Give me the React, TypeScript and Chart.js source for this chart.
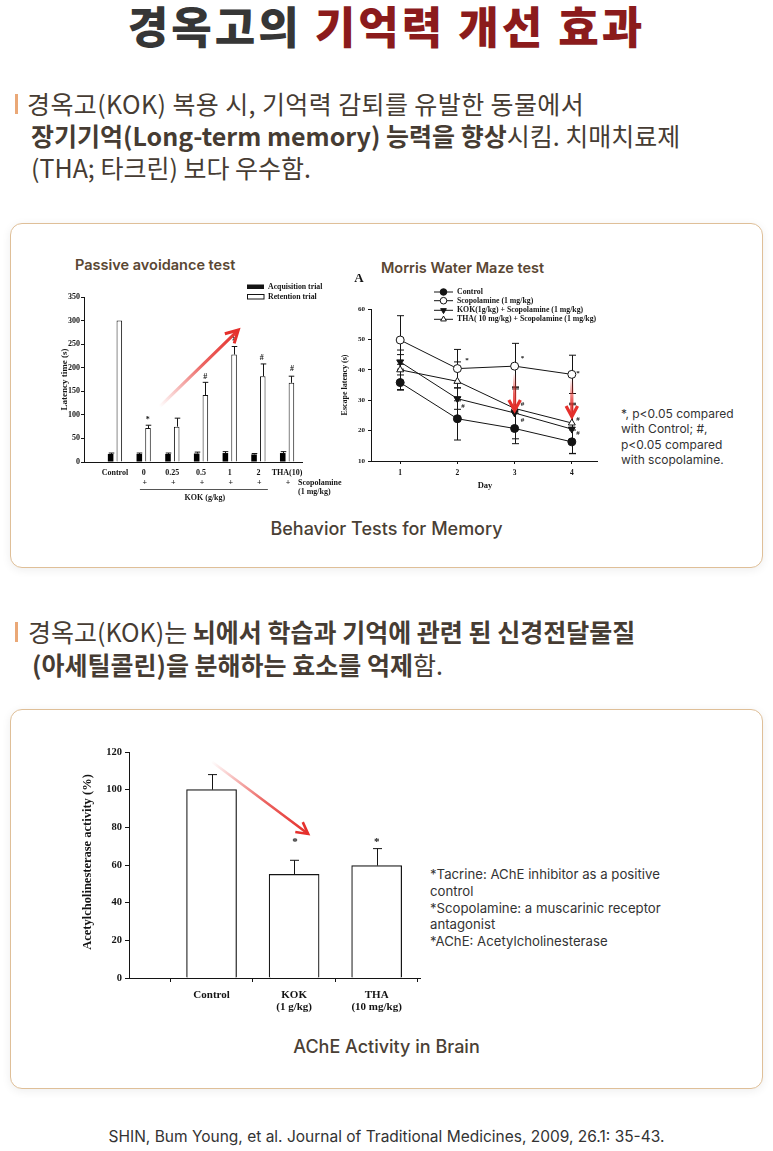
import React, { useEffect, useRef } from 'react';
import { Chart, registerables } from 'chart.js';
Chart.register(...registerables);

// ---------- Passive avoidance test ----------
const paCategories = ['Control', '0', '0.25', '0.5', '1', '2', 'THA(10)'];
const paScopolamine = ['', '+', '+', '+', '+', '+', '+'];
const paAcquisition = [17, 17, 17, 18, 19, 16, 19];
const paAcquisitionErr = [2, 2, 2, 3, 3, 2, 3];
const paRetention = [300, 72, 75, 142, 228, 182, 168];
const paRetentionErr = [0, 6, 18, 27, 17, 26, 14];
const paMarks = [
  { x: 1.14, y: 92, t: '*' },
  { x: 3.15, y: 181, t: '#' },
  { x: 4.16, y: 260, t: '#' },
  { x: 5.12, y: 220, t: '#' },
  { x: 6.17, y: 197, t: '#' },
];
const paArrow = { x1: 1.55, y1: 117, x2: 4.3, y2: 280 };

// ---------- Morris water maze ----------
const mwmDays = [1, 2, 3, 4];
const mwmControl = [35.8, 23.9, 20.7, 16.3];
const mwmControlErr = [2.5, 7, 5, 3.9];
const mwmScopolamine = [49.8, 40.4, 41.2, 38.5];
const mwmScopolamineErr = [8, 6.3, 7.5, 6.3];
const mwmKok = [42.6, 30.5, 25.8, 20.5];
const mwmKokErr = [2.4, 3.5, 8.5, 8];
const mwmTha = [40, 36.2, 27.3, 22.5];
const mwmThaErr = [6.5, 6.4, 7, 6.5];
const mwmLegend = [
  'Control',
  'Scopolamine (1 mg/kg)',
  'KOK(1g/kg) + Scopolamine (1 mg/kg)',
  'THA( 10 mg/kg) + Scopolamine (1 mg/kg)',
];
const mwmMarks = [
  { x: 2.17, y: 43.5, t: '*' },
  { x: 3.14, y: 44.3, t: '*' },
  { x: 4.11, y: 39.3, t: '*' },
  { x: 2.1, y: 28.1, t: '#' },
  { x: 3.14, y: 28.6, t: '#' },
  { x: 3.14, y: 23.4, t: '#' },
  { x: 4.11, y: 23.7, t: '#' },
  { x: 4.11, y: 19.1, t: '#' },
];
const mwmArrows = [
  { x: 3, y1: 38.9, y2: 26.6 },
  { x: 4, y1: 37.2, y2: 24.6 },
];

// ---------- AChE ----------
const acheCategories = [['Control'], ['KOK', '(1 g/kg)'], ['THA', '(10 mg/kg)']];
const acheValues = [100, 55, 59.7];
const acheErr = [8, 7.5, 9];
const acheMarks = [
  { x: 2.01, y: 73.3, t: '*' },
  { x: 3.0, y: 73.3, t: '*' },
];
const acheArrow = { x1: 1.0, y1: 115, x2: 2.17, y2: 76.5 };

const SERIF = '"Liberation Serif", "Times New Roman", serif';
const INK = '#141414';
const RED = '#e5302c';

function yAxis(min: number, max: number, step: number, tickLen: number, pad: number, width: number, size: number) {
  return {
    type: 'linear',
    min,
    max,
    ticks: { stepSize: step, font: { family: SERIF, weight: 'bold', size }, color: INK, padding: pad },
    grid: { display: true, drawOnChartArea: false, drawTicks: true, tickLength: tickLen, tickColor: INK, tickWidth: 1 },
    border: { display: true, color: INK, width: 1 },
    afterFit: (s: any) => {
      s.width = width;
    },
  };
}

function xAxis(min: number, max: number, values: number[], tickLen: number, height: number) {
  return {
    type: 'linear',
    min,
    max,
    offset: false,
    ticks: { display: false },
    afterBuildTicks: (s: any) => {
      s.ticks = values.map((v) => ({ value: v }));
    },
    grid: {
      display: tickLen > 0,
      drawOnChartArea: false,
      drawTicks: tickLen > 0,
      tickLength: tickLen,
      tickColor: INK,
      tickWidth: 1,
    },
    border: { display: true, color: INK, width: 1 },
    afterFit: (s: any) => {
      s.height = height;
    },
  };
}

function drawErrorBars(chart: any, di: number, values: number[], errs: number[], both: boolean, cap: number | null) {
  const ctx = chart.ctx;
  const ys = chart.scales.y;
  const meta = chart.getDatasetMeta(di);
  ctx.save();
  ctx.strokeStyle = INK;
  ctx.lineWidth = 1;
  meta.data.forEach((el: any, i: number) => {
    const e = errs[i];
    if (!e) return;
    const v = values[i];
    const x = Math.round(el.x) + 0.5;
    const cw = cap == null ? el.width : cap;
    const yTop = ys.getPixelForValue(v + e);
    const yBot = both ? ys.getPixelForValue(v - e) : ys.getPixelForValue(v);
    ctx.beginPath();
    ctx.moveTo(x, yBot);
    ctx.lineTo(x, yTop);
    ctx.moveTo(x - cw / 2, yTop);
    ctx.lineTo(x + cw / 2, yTop);
    if (both) {
      ctx.moveTo(x - cw / 2, yBot);
      ctx.lineTo(x + cw / 2, yBot);
    }
    ctx.stroke();
  });
  ctx.restore();
}

function drawMarks(chart: any, marks: { x: number; y: number; t: string }[], size: number) {
  const ctx = chart.ctx;
  const xs = chart.scales.x;
  const ys = chart.scales.y;
  ctx.save();
  ctx.fillStyle = INK;
  ctx.font = `bold ${size}px ${SERIF}`;
  ctx.textAlign = 'center';
  ctx.textBaseline = 'middle';
  marks.forEach((m) => {
    const dy = m.t === '*' ? size * 0.18 : 0;
    ctx.fillText(m.t, xs.getPixelForValue(m.x), ys.getPixelForValue(m.y) + dy);
  });
  ctx.restore();
}

function drawArrow(ctx: any, x1: number, y1: number, x2: number, y2: number, lw: number, head: number) {
  const g = ctx.createLinearGradient(x1, y1, x2, y2);
  g.addColorStop(0, 'rgba(229,48,44,0)');
  g.addColorStop(0.55, 'rgba(229,48,44,0.75)');
  g.addColorStop(1, 'rgba(229,48,44,1)');
  const ang = Math.atan2(y2 - y1, x2 - x1);
  ctx.save();
  ctx.strokeStyle = g;
  ctx.lineWidth = lw;
  ctx.lineCap = 'round';
  ctx.beginPath();
  ctx.moveTo(x1, y1);
  ctx.lineTo(x2 - Math.cos(ang) * lw * 0.4, y2 - Math.sin(ang) * lw * 0.4);
  ctx.stroke();
  ctx.strokeStyle = RED;
  ctx.lineJoin = 'miter';
  ctx.lineCap = 'butt';
  ctx.beginPath();
  ctx.moveTo(x2 - Math.cos(ang - 0.5) * head, y2 - Math.sin(ang - 0.5) * head);
  ctx.lineTo(x2, y2);
  ctx.lineTo(x2 - Math.cos(ang + 0.5) * head, y2 - Math.sin(ang + 0.5) * head);
  ctx.stroke();
  ctx.restore();
}

function rotatedText(ctx: any, t: string, x: number, y: number, font: string) {
  ctx.save();
  ctx.translate(x, y);
  ctx.rotate(-Math.PI / 2);
  ctx.font = font;
  ctx.fillStyle = INK;
  ctx.textAlign = 'center';
  ctx.textBaseline = 'middle';
  ctx.fillText(t, 0, 0);
  ctx.restore();
}

function marker(ctx: any, kind: string, x: number, y: number, r: number) {
  ctx.save();
  ctx.strokeStyle = INK;
  ctx.lineWidth = 1;
  ctx.beginPath();
  if (kind === 'circle' || kind === 'ocircle') {
    ctx.arc(x, y, r, 0, Math.PI * 2);
  } else {
    const s = kind === 'tdown' ? -1 : 1;
    ctx.moveTo(x, y - s * r);
    ctx.lineTo(x - r * 0.866, y + s * r * 0.5);
    ctx.lineTo(x + r * 0.866, y + s * r * 0.5);
    ctx.closePath();
  }
  ctx.fillStyle = kind === 'circle' || kind === 'tdown' ? INK : '#fff';
  ctx.fill();
  ctx.stroke();
  ctx.restore();
}

const basePlugins = { legend: { display: false }, tooltip: { enabled: false }, title: { display: false } };

function passiveConfig(): any {
  const plugin = {
    id: 'pa',
    afterDatasetsDraw(chart: any) {
      drawErrorBars(chart, 0, paAcquisition, paAcquisitionErr, false, null);
      drawErrorBars(chart, 1, paRetention, paRetentionErr, false, null);
      drawMarks(chart, paMarks, 8);
      const xs = chart.scales.x;
      const ys = chart.scales.y;
      drawArrow(
        chart.ctx,
        xs.getPixelForValue(paArrow.x1),
        ys.getPixelForValue(paArrow.y1),
        xs.getPixelForValue(paArrow.x2),
        ys.getPixelForValue(paArrow.y2),
        3,
        14
      );
    },
    afterDraw(chart: any) {
      const ctx = chart.ctx;
      const xs = chart.scales.x;
      const b = chart.chartArea.bottom;
      ctx.save();
      ctx.fillStyle = INK;
      ctx.font = `bold 8px ${SERIF}`;
      ctx.textAlign = 'center';
      ctx.textBaseline = 'middle';
      paCategories.forEach((c, i) => {
        const x = xs.getPixelForValue(i);
        ctx.fillText(c, x, b + 11);
        if (paScopolamine[i]) ctx.fillText(paScopolamine[i], x + 1, b + 21);
      });
      ctx.fillText('KOK (g/kg)', (xs.getPixelForValue(0.87) + xs.getPixelForValue(5.33)) / 2 + 1, b + 36);
      ctx.textAlign = 'left';
      ctx.fillText('Scopolamine', xs.getPixelForValue(6.38), b + 21);
      ctx.fillText('(1 mg/kg)', xs.getPixelForValue(6.38), b + 30);
      // KOK bracket line
      ctx.strokeStyle = '#555';
      ctx.lineWidth = 1;
      ctx.beginPath();
      ctx.moveTo(xs.getPixelForValue(0.87), b + 27.5);
      ctx.lineTo(xs.getPixelForValue(5.33), b + 27.5);
      ctx.stroke();
      // legend
      ctx.fillStyle = INK;
      ctx.fillRect(187, 9.5, 17, 4.5);
      ctx.fillStyle = '#fff';
      ctx.strokeStyle = INK;
      ctx.fillRect(187, 19.5, 17, 4.5);
      ctx.strokeRect(187.5, 19.5, 16.5, 4.5);
      ctx.fillStyle = INK;
      ctx.font = `bold 7.8px ${SERIF}`;
      ctx.fillText('Acquisition trial', 208, 12);
      ctx.fillText('Retention trial', 208, 22);
      ctx.restore();
      const ca = chart.chartArea;
      rotatedText(ctx, 'Latency time (s)', 5, (ca.top + ca.bottom) / 2, `bold 9px ${SERIF}`);
    },
  };
  return {
    type: 'bar',
    data: {
      datasets: [
        {
          label: 'Acquisition trial',
          data: paAcquisition.map((y, i) => ({ x: i, y })),
          backgroundColor: '#000',
          borderColor: '#000',
          borderWidth: 0,
          categoryPercentage: 0.606,
          barPercentage: 0.64,
        },
        {
          label: 'Retention trial',
          data: paRetention.map((y, i) => ({ x: i, y })),
          backgroundColor: '#fff',
          borderColor: INK,
          borderWidth: 1,
          categoryPercentage: 0.606,
          barPercentage: 0.64,
        },
      ],
    },
    options: {
      responsive: false,
      animation: false,
      events: [],
      layout: { padding: { left: 0, top: 22, right: 58, bottom: 0 } },
      plugins: basePlugins,
      scales: {
        x: xAxis(-1.08, 6.52, paCategories.map((_, i) => i), 0, 48),
        y: yAxis(0, 350, 50, 3, 1, 24, 8),
      },
    },
    plugins: [plugin],
  };
}

function mwmConfig(): any {
  const series = [
    { d: mwmControl, e: mwmControlErr, kind: 'circle' },
    { d: mwmScopolamine, e: mwmScopolamineErr, kind: 'ocircle' },
    { d: mwmKok, e: mwmKokErr, kind: 'tdown' },
    { d: mwmTha, e: mwmThaErr, kind: 'tup' },
  ];
  const plugin = {
    id: 'mwm',
    beforeDatasetsDraw(chart: any) {
      series.forEach((s, i) => drawErrorBars(chart, i, s.d, s.e, true, 7));
    },
    afterDatasetsDraw(chart: any) {
      drawMarks(chart, mwmMarks, 7);
      const xs = chart.scales.x;
      const ys = chart.scales.y;
      mwmArrows.forEach((a) => {
        const x = xs.getPixelForValue(a.x);
        drawArrow(chart.ctx, x, ys.getPixelForValue(a.y1), x, ys.getPixelForValue(a.y2), 3.2, 12);
      });
    },
    afterDraw(chart: any) {
      const ctx = chart.ctx;
      const xs = chart.scales.x;
      const ca = chart.chartArea;
      ctx.save();
      ctx.fillStyle = INK;
      ctx.textAlign = 'center';
      ctx.textBaseline = 'middle';
      ctx.font = `bold 7.5px ${SERIF}`;
      mwmDays.forEach((d) => ctx.fillText(String(d), xs.getPixelForValue(d), ca.bottom + 12));
      ctx.font = `bold 8.5px ${SERIF}`;
      ctx.fillText('Day', (ca.left + ca.right) / 2 + 1, ca.bottom + 25);
      ctx.font = `bold 13px ${SERIF}`;
      ctx.fillText('A', 29, 9);
      // legend
      const ly = [22, 30.7, 40.3, 49.3];
      ctx.font = `bold 7.8px ${SERIF}`;
      ctx.textAlign = 'left';
      series.forEach((s, i) => {
        ctx.strokeStyle = INK;
        ctx.lineWidth = 1;
        ctx.beginPath();
        ctx.moveTo(104, ly[i]);
        ctx.lineTo(123, ly[i]);
        ctx.stroke();
        marker(ctx, s.kind, 113.5, ly[i], 3.3);
        ctx.fillStyle = INK;
        ctx.fillText(mwmLegend[i], 127, ly[i]);
      });
      ctx.restore();
      rotatedText(ctx, 'Escape latency (s)', 15, (ca.top + ca.bottom) / 2, `bold 8px ${SERIF}`);
    },
  };
  const mk = (d: number[], kind: string, label: string) => ({
    label,
    data: d.map((y, i) => ({ x: mwmDays[i], y })),
    borderColor: INK,
    borderWidth: 1,
    pointRadius: 4,
    pointBorderWidth: 1,
    pointBorderColor: INK,
    pointBackgroundColor: kind === 'circle' || kind === 'tdown' ? INK : '#fff',
    pointStyle: kind === 'circle' || kind === 'ocircle' ? 'circle' : 'triangle',
    pointRotation: kind === 'tdown' ? 180 : 0,
    tension: 0,
    fill: false,
  });
  return {
    type: 'line',
    data: {
      datasets: [
        mk(mwmControl, 'circle', mwmLegend[0]),
        mk(mwmScopolamine, 'ocircle', mwmLegend[1]),
        mk(mwmKok, 'tdown', mwmLegend[2]),
        mk(mwmTha, 'tup', mwmLegend[3]),
      ],
    },
    options: {
      responsive: false,
      animation: false,
      events: [],
      layout: { padding: { left: 0, top: 39, right: 13, bottom: 0 } },
      plugins: basePlugins,
      scales: {
        x: xAxis(0.49, 4.44, mwmDays, 3, 39),
        y: yAxis(10, 60, 10, 3, 3, 41, 7),
      },
    },
    plugins: [plugin],
  };
}

function acheConfig(): any {
  const plugin = {
    id: 'ache',
    afterDatasetsDraw(chart: any) {
      drawErrorBars(chart, 0, acheValues, acheErr, false, 9);
      drawMarks(chart, acheMarks, 11);
      const xs = chart.scales.x;
      const ys = chart.scales.y;
      drawArrow(
        chart.ctx,
        xs.getPixelForValue(acheArrow.x1),
        ys.getPixelForValue(acheArrow.y1),
        xs.getPixelForValue(acheArrow.x2),
        ys.getPixelForValue(acheArrow.y2),
        2.6,
        13
      );
    },
    afterDraw(chart: any) {
      const ctx = chart.ctx;
      const xs = chart.scales.x;
      const ca = chart.chartArea;
      ctx.save();
      ctx.fillStyle = INK;
      ctx.textAlign = 'center';
      ctx.textBaseline = 'middle';
      ctx.font = `bold 11px ${SERIF}`;
      acheCategories.forEach((lines, i) => {
        lines.forEach((l, j) => ctx.fillText(l, xs.getPixelForValue(i + 1), ca.bottom + 17 + j * 12));
      });
      ctx.restore();
      rotatedText(ctx, 'Acetylcholinesterase activity (%)', 8, (ca.top + ca.bottom) / 2 - 3, `bold 12.5px ${SERIF}`);
    },
  };
  return {
    type: 'bar',
    data: {
      datasets: [
        {
          label: 'AChE',
          data: acheValues.map((y, i) => ({ x: i + 1, y })),
          backgroundColor: '#fff',
          borderColor: INK,
          borderWidth: 1.2,
          barThickness: 50,
        },
      ],
    },
    options: {
      responsive: false,
      animation: false,
      events: [],
      layout: { padding: { left: 0, top: 12, right: 10, bottom: 0 } },
      plugins: basePlugins,
      scales: {
        x: xAxis(0, 3.525, [1, 2, 3], 4, 42),
        y: yAxis(0, 120, 20, 4, 3, 49, 10.5),
      },
    },
    plugins: [plugin],
  };
}

function ChartCanvas({ left, top, width, height, make }: any) {
  const ref = useRef<HTMLCanvasElement>(null);
  useEffect(() => {
    const chart = new Chart(ref.current as HTMLCanvasElement, make());
    return () => chart.destroy();
  }, []);
  return (
    <canvas
      ref={ref}
      width={width}
      height={height}
      style={{ position: 'absolute', left, top, width, height }}
    />
  );
}

const KR = '"Noto Sans CJK KR", "Noto Sans", sans-serif';
const SANS = 'Inter, "Noto Sans", sans-serif';
const TXT = '#463c33';

const abs = (left: number, top: number, extra: any = {}) => ({ position: 'absolute' as const, left, top, ...extra });

export default function App() {
  const box = (top: number, height: number) => ({
    position: 'absolute' as const,
    left: 10,
    top,
    width: 753,
    height,
    boxSizing: 'border-box' as const,
    border: '1.6px solid #dfbf98',
    borderRadius: 12,
    background: '#fff',
    boxShadow: '0 2px 10px rgba(0,0,0,0.07)',
  });
  const bar = (top: number) => ({ position: 'absolute' as const, left: 15, top, width: 3, height: 20, background: '#eaa877' });
  return (
    <div style={{ position: 'absolute', left: 0, top: 0, width: 773, height: 1151, background: '#fff', overflow: 'hidden' }}>
      <div
        style={{
          position: 'absolute',
          left: 0,
          top: -3,
          width: 773,
          textAlign: 'center',
          fontFamily: KR,
          fontWeight: 800,
          fontSize: 44,
          letterSpacing: 3,
          lineHeight: '56px',
          color: '#363636',
          whiteSpace: 'nowrap',
        }}
      >
        경옥고의 <span style={{ color: '#8b1b1c' }}>기억력 개선 효과</span>
      </div>

      <div style={bar(94)} />
      <div style={abs(27, 87, { fontFamily: KR, fontSize: 25, lineHeight: '32px', color: TXT, whiteSpace: 'nowrap' })}>
        <div style={{ letterSpacing: 0.4 }}>경옥고(KOK) 복용 시, 기억력 감퇴를 유발한 동물에서</div>
        <div style={{ paddingLeft: 4 }}>
          <b style={{ fontWeight: 700 }}>장기기억(Long-term memory) 능력을 향상</b>시킴. 치매치료제
        </div>
        <div style={{ paddingLeft: 4 }}>(THA; 타크린) 보다 우수함.</div>
      </div>

      <div style={box(223, 345)} />
      <div style={abs(75, 256, { fontFamily: SANS, fontSize: 14.5, fontWeight: 600, lineHeight: '18px', color: '#5a4733', whiteSpace: 'nowrap' })}>
        Passive avoidance test
      </div>
      <div style={abs(381, 259, { fontFamily: SANS, fontSize: 14.5, fontWeight: 600, lineHeight: '18px', color: '#5a4733', whiteSpace: 'nowrap' })}>
        Morris Water Maze test
      </div>
      <ChartCanvas left={60} top={275} width={300} height={235} make={passiveConfig} />
      <ChartCanvas left={330} top={270} width={280} height={230} make={mwmConfig} />
      <div style={abs(621, 406, { fontFamily: SANS, fontSize: 12, lineHeight: '15.4px', color: '#333', whiteSpace: 'nowrap' })}>
        *, p&lt;0.05 compared
        <br />
        with Control; #,
        <br />
        p&lt;0.05 compared
        <br />
        with scopolamine.
      </div>
      <div style={abs(0, 518, { width: 773, textAlign: 'center', fontFamily: SANS, fontSize: 18, fontWeight: 500, lineHeight: '22px', color: '#4a3f35' })}>
        Behavior Tests for Memory
      </div>

      <div style={bar(622)} />
      <div style={abs(28, 615, { fontFamily: KR, fontSize: 25, lineHeight: '33px', color: TXT, whiteSpace: 'nowrap' })}>
        <div>
          경옥고(KOK)는 <b style={{ fontWeight: 700 }}>뇌에서 학습과 기억에 관련 된 신경전달물질</b>
        </div>
        <div style={{ paddingLeft: 4 }}>
          <b style={{ fontWeight: 700 }}>(아세틸콜린)을 분해하는 효소를 억제</b>함.
        </div>
      </div>

      <div style={box(709, 380)} />
      <ChartCanvas left={80} top={740} width={350} height={280} make={acheConfig} />
      <div style={abs(430, 866, { fontFamily: SANS, fontSize: 13.2, lineHeight: '16.8px', color: '#333', whiteSpace: 'nowrap' })}>
        *Tacrine: AChE inhibitor as a positive
        <br />
        control
        <br />
        *Scopolamine: a muscarinic receptor
        <br />
        antagonist
        <br />
        *AChE: Acetylcholinesterase
      </div>
      <div style={abs(0, 1036, { width: 773, textAlign: 'center', fontFamily: SANS, fontSize: 18, fontWeight: 500, lineHeight: '22px', color: '#4a3f35' })}>
        AChE Activity in Brain
      </div>

      <div style={abs(0, 1127, { width: 773, textAlign: 'center', fontFamily: SANS, fontSize: 15.5, lineHeight: '20px', color: '#333' })}>
        SHIN, Bum Young, et al. Journal of Traditional Medicines, 2009, 26.1: 35-43.
      </div>
    </div>
  );
}
